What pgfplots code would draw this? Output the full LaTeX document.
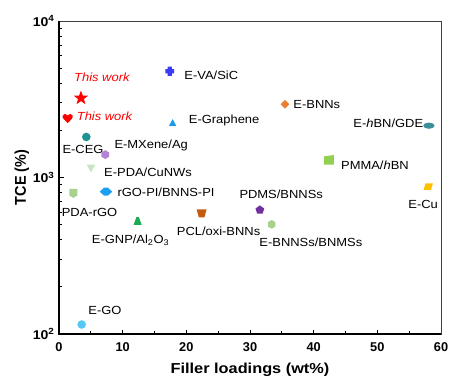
\documentclass[border=0pt]{standalone}
\usepackage{fontspec}
\setmainfont{Liberation Sans}
\usepackage{graphicx}
\usepackage{pgfplots}
\pgfplotsset{compat=1.18}

\definecolor{cred}{HTML}{FF0000}
\definecolor{cva}{HTML}{3B3BF5}
\definecolor{cgraph}{HTML}{1E9BE8}
\definecolor{cceg}{HTML}{1F938F}
\definecolor{cmx}{HTML}{B383D8}
\definecolor{cpda}{HTML}{C5E6C0}
\definecolor{cpdargo}{HTML}{A9D18E}
\definecolor{crgo}{HTML}{1C9FEF}
\definecolor{cgnp}{HTML}{1DAA55}
\definecolor{cpcl}{HTML}{C55A11}
\definecolor{cgo}{HTML}{55C8F5}
\definecolor{cpdms}{HTML}{7030A0}
\definecolor{cbnnss}{HTML}{A9D18E}
\definecolor{ccu}{HTML}{FFC000}
\definecolor{cbnns}{HTML}{ED7D31}
\definecolor{chbn}{HTML}{3C8F9A}
\definecolor{cpmma}{HTML}{92D050}

\pgfdeclareplotmark{fstar}{%
  \pgfpathmoveto{\pgfpointpolar{90}{7.5bp}}%
  \pgfpathlineto{\pgfpointpolar{126}{3.1bp}}%
  \pgfpathlineto{\pgfpointpolar{162}{7.5bp}}%
  \pgfpathlineto{\pgfpointpolar{198}{3.1bp}}%
  \pgfpathlineto{\pgfpointpolar{234}{7.5bp}}%
  \pgfpathlineto{\pgfpointpolar{270}{3.1bp}}%
  \pgfpathlineto{\pgfpointpolar{306}{7.5bp}}%
  \pgfpathlineto{\pgfpointpolar{342}{3.1bp}}%
  \pgfpathlineto{\pgfpointpolar{18}{7.5bp}}%
  \pgfpathlineto{\pgfpointpolar{54}{3.1bp}}%
  \pgfpathclose\pgfusepathqfill}
\pgfdeclareplotmark{heart}{%
  \pgfpathmoveto{\pgfpoint{0bp}{-4.8bp}}%
  \pgfpathcurveto{\pgfpoint{-3bp}{-1.8bp}}{\pgfpoint{-5.6bp}{0.3bp}}{\pgfpoint{-5.1bp}{2.4bp}}%
  \pgfpathcurveto{\pgfpoint{-4.6bp}{4.9bp}}{\pgfpoint{-1bp}{5.3bp}}{\pgfpoint{0bp}{2.8bp}}%
  \pgfpathcurveto{\pgfpoint{1bp}{5.3bp}}{\pgfpoint{4.6bp}{4.9bp}}{\pgfpoint{5.1bp}{2.4bp}}%
  \pgfpathcurveto{\pgfpoint{5.6bp}{0.3bp}}{\pgfpoint{3bp}{-1.8bp}}{\pgfpoint{0bp}{-4.8bp}}%
  \pgfpathclose\pgfusepathqfill}
\pgfdeclareplotmark{fatplus}{%
  \pgfpathmoveto{\pgfpoint{-2.1bp}{4.6bp}}%
  \pgfpathlineto{\pgfpoint{2.1bp}{4.6bp}}%
  \pgfpathlineto{\pgfpoint{2.1bp}{2.1bp}}%
  \pgfpathlineto{\pgfpoint{4.4bp}{2.1bp}}%
  \pgfpathlineto{\pgfpoint{4.4bp}{-2.1bp}}%
  \pgfpathlineto{\pgfpoint{2.1bp}{-2.1bp}}%
  \pgfpathlineto{\pgfpoint{2.1bp}{-4.6bp}}%
  \pgfpathlineto{\pgfpoint{-2.1bp}{-4.6bp}}%
  \pgfpathlineto{\pgfpoint{-2.1bp}{-2.1bp}}%
  \pgfpathlineto{\pgfpoint{-4.4bp}{-2.1bp}}%
  \pgfpathlineto{\pgfpoint{-4.4bp}{2.1bp}}%
  \pgfpathlineto{\pgfpoint{-2.1bp}{2.1bp}}%
  \pgfpathclose\pgfusepathqfill}
\pgfdeclareplotmark{hexa}{%
  \pgfpathmoveto{\pgfpointpolar{90}{4.4bp}}%
  \pgfpathlineto{\pgfpointpolar{150}{4.4bp}}%
  \pgfpathlineto{\pgfpointpolar{210}{4.4bp}}%
  \pgfpathlineto{\pgfpointpolar{270}{4.4bp}}%
  \pgfpathlineto{\pgfpointpolar{330}{4.4bp}}%
  \pgfpathlineto{\pgfpointpolar{30}{4.4bp}}%
  \pgfpathclose\pgfusepathqfill}
\pgfdeclareplotmark{shield}{%
  \pgfpathmoveto{\pgfpoint{-4bp}{4.5bp}}%
  \pgfpathlineto{\pgfpoint{4bp}{4.5bp}}%
  \pgfpathlineto{\pgfpoint{4bp}{-2.3bp}}%
  \pgfpathlineto{\pgfpoint{0bp}{-4.6bp}}%
  \pgfpathlineto{\pgfpoint{-4bp}{-2.3bp}}%
  \pgfpathclose\pgfusepathqfill}
\pgfdeclareplotmark{tent}{%
  \pgfpathmoveto{\pgfpoint{-4bp}{-3.8bp}}%
  \pgfpathlineto{\pgfpoint{4bp}{-3.8bp}}%
  \pgfpathlineto{\pgfpoint{1.3bp}{3.8bp}}%
  \pgfpathlineto{\pgfpoint{-1.3bp}{3.8bp}}%
  \pgfpathclose\pgfusepathqfill}
\pgfdeclareplotmark{cup}{%
  \pgfpathmoveto{\pgfpoint{-5bp}{4.1bp}}%
  \pgfpathlineto{\pgfpoint{5bp}{4.1bp}}%
  \pgfpathlineto{\pgfpoint{2.8bp}{-4.1bp}}%
  \pgfpathlineto{\pgfpoint{-2.8bp}{-4.1bp}}%
  \pgfpathclose\pgfusepathqfill}
\pgfdeclareplotmark{para}{%
  \pgfpathmoveto{\pgfpoint{-4.7bp}{-3.3bp}}%
  \pgfpathlineto{\pgfpoint{2.7bp}{-3.3bp}}%
  \pgfpathlineto{\pgfpoint{4.7bp}{3.3bp}}%
  \pgfpathlineto{\pgfpoint{-2.7bp}{3.3bp}}%
  \pgfpathclose\pgfusepathqfill}
\pgfdeclareplotmark{wdiamond}{%
  \pgfpathmoveto{\pgfpoint{-6.2bp}{0bp}}%
  \pgfpathlineto{\pgfpoint{-2bp}{4bp}}%
  \pgfpathlineto{\pgfpoint{2bp}{4bp}}%
  \pgfpathlineto{\pgfpoint{6.2bp}{0bp}}%
  \pgfpathlineto{\pgfpoint{2bp}{-4bp}}%
  \pgfpathlineto{\pgfpoint{-2bp}{-4bp}}%
  \pgfpathclose\pgfusepathqfill}
\pgfdeclareplotmark{ediamond}{%
  \pgfpathmoveto{\pgfpoint{-4.4bp}{0bp}}%
  \pgfpathlineto{\pgfpoint{0bp}{4.4bp}}%
  \pgfpathlineto{\pgfpoint{4.4bp}{0bp}}%
  \pgfpathlineto{\pgfpoint{0bp}{-4.4bp}}%
  \pgfpathclose\pgfusepathqfill}
\pgfdeclareplotmark{ellip}{%
  \pgfpathellipse{\pgfpointorigin}{\pgfpoint{5.7bp}{0bp}}{\pgfpoint{0bp}{3.1bp}}%
  \pgfusepathqfill}
\pgfdeclareplotmark{pmma}{%
  \pgfpathmoveto{\pgfpoint{-5bp}{-4.6bp}}%
  \pgfpathlineto{\pgfpoint{5bp}{-4.6bp}}%
  \pgfpathlineto{\pgfpoint{5bp}{5bp}}%
  \pgfpathlineto{\pgfpoint{-5bp}{3.6bp}}%
  \pgfpathclose\pgfusepathqfill}
\pgfdeclareplotmark{dtri}{%
  \pgfpathmoveto{\pgfpoint{-4.3bp}{3.6bp}}%
  \pgfpathlineto{\pgfpoint{4.3bp}{3.6bp}}%
  \pgfpathlineto{\pgfpoint{0bp}{-4bp}}%
  \pgfpathclose\pgfusepathqfill}
\pgfdeclareplotmark{utri}{%
  \pgfpathmoveto{\pgfpoint{-3.6bp}{-3.1bp}}%
  \pgfpathlineto{\pgfpoint{3.6bp}{-3.1bp}}%
  \pgfpathlineto{\pgfpoint{0bp}{3.6bp}}%
  \pgfpathclose\pgfusepathqfill}
\pgfdeclareplotmark{pent}{%
  \pgfpathmoveto{\pgfpointpolar{90}{4.6bp}}%
  \pgfpathlineto{\pgfpointpolar{162}{4.6bp}}%
  \pgfpathlineto{\pgfpointpolar{234}{4.6bp}}%
  \pgfpathlineto{\pgfpointpolar{306}{4.6bp}}%
  \pgfpathlineto{\pgfpointpolar{18}{4.6bp}}%
  \pgfpathclose\pgfusepathqfill}
\pgfdeclareplotmark{disc}{%
  \pgfpathcircle{\pgfpointorigin}{4.3bp}\pgfusepathqfill}

\newcommand\lab[1]{\scalebox{1.1}[1]{#1}}
\newcommand\labfont{\fontsize{11.8}{13}\selectfont}

\begin{document}
\begin{tikzpicture}
\begin{axis}[
  scale only axis, width=382bp, height=313bp,
  xmin=0, xmax=60, ymode=log, ymin=100, ymax=10000,
  xtick={0,10,20,30,40,50,60},
  xticklabels={0,10,20,30,40,50,60},
  minor xtick={5,15,25,35,45,55},
  ytick={100,1000,10000},
  yticklabels={\lab{10\textsuperscript{2}},\lab{10\textsuperscript{3}},\lab{10\textsuperscript{4}}},
  minor ytick={200,300,400,500,600,700,800,900,2000,3000,4000,5000,6000,7000,8000,9000},
  tick align=inside, tick pos=left,
  major tick length=4.5bp, minor tick length=2.8bp,
  tick style={black, line width=0.8pt},
  axis line style={draw=black!75, line width=0.7pt},
  xticklabel style={font=\fontsize{12.8}{14}\selectfont\bfseries, yshift=-5bp},
  yticklabel style={font=\fontsize{12.8}{14}\selectfont\bfseries, xshift=-1bp},
  xlabel={\scalebox{1.13}[1]{Filler loadings (wt\%)}},
  ylabel={\scalebox{1}[1.08]{TCE (\%)}},
  xlabel style={font=\fontsize{14.5}{16}\selectfont\bfseries, at={(axis description cs:0.5,-0.115)}, anchor=center},
  ylabel style={font=\fontsize{14.5}{16}\selectfont\bfseries, at={(axis description cs:-0.097,0.5)}, anchor=center},
  clip=false,
  every axis plot/.append style={only marks},
]
% This work
\addplot[color=cred, mark=fstar] coordinates {(3.45,3220)};
\addplot[color=cred, mark=heart] coordinates {(1.36,2390)};
% references
\addplot[color=cva, mark=fatplus] coordinates {(17.4,4770)};
\addplot[color=cgraph, mark=utri] coordinates {(17.85,2240)};
\addplot[color=cceg, mark=disc] coordinates {(4.29,1815)};
\addplot[color=cmx, mark=hexa] coordinates {(7.27,1400)};
\addplot[color=cpda, mark=dtri] coordinates {(5.02,1145)};
\addplot[color=cpdargo, mark=shield] coordinates {(2.25,793)};
\addplot[color=crgo, mark=wdiamond] coordinates {(7.38,812)};
\addplot[color=cgnp, mark=tent] coordinates {(12.35,527)};
\addplot[color=cpcl, mark=cup] coordinates {(22.4,590)};
\addplot[color=cgo, mark=disc] coordinates {(3.56,115)};
\addplot[color=cpdms, mark=pent] coordinates {(31.55,620)};
\addplot[color=cbnnss, mark=hexa] coordinates {(33.4,502)};
\addplot[color=ccu, mark=para] coordinates {(58.0,874)};
\addplot[color=cbnns, mark=ediamond] coordinates {(35.5,2937)};
\addplot[color=chbn, mark=ellip] coordinates {(58.1,2143)};
\addplot[color=cpmma, mark=pmma] coordinates {(42.4,1294)};

\begin{scope}[every node/.style={anchor=west, inner sep=0pt, font=\labfont}]
\node[text=cred, font=\labfont\itshape] at (axis cs:2.36,4365) {\lab{This work}};
\node[text=cred, font=\labfont\itshape] at (axis cs:2.78,2446) {\lab{This work}};
\node at (axis cs:19.68,4498) {\lab{E-VA/SiC}};
\node at (axis cs:20.37,2307) {\lab{E-Graphene}};
\node at (axis cs:0.52,1521) {\lab{E-CEG}};
\node at (axis cs:8.69,1597) {\lab{E-MXene/Ag}};
\node at (axis cs:7.07,1073) {\lab{E-PDA/CuNWs}};
\node at (axis cs:9.16,804) {\lab{rGO-PI/BNNS-PI}};
\node at (axis cs:0.42,596) {\lab{PDA-rGO}};
\node at (axis cs:5.14,398) {\lab{E-GNP/Al\textsubscript{2}O\textsubscript{3}}};
\node at (axis cs:18.49,450) {\lab{PCL/oxi-BNNs}};
\node at (axis cs:4.60,142) {\lab{E-GO}};
\node at (axis cs:28.32,785) {\lab{PDMS/BNNSs}};
\node at (axis cs:31.46,383) {\lab{E-BNNSs/BNMSs}};
\node at (axis cs:54.86,677) {\lab{E-Cu}};
\node at (axis cs:36.80,2937) {\lab{E-BNNs}};
\node at (axis cs:46.22,2220) {\lab{E-\textit{h}BN/GDE}};
\node at (axis cs:44.29,1190) {\lab{PMMA/\textit{h}BN}};
\end{scope}

\draw[black, line width=1.4pt] (rel axis cs:0,1) -- (rel axis cs:0,0) -- (rel axis cs:1,0);
\coordinate (O) at (rel axis cs:0,0);
\coordinate (T) at (rel axis cs:1,1);
\end{axis}
\path ([shift={(-59bp,-52bp)}]O) rectangle ([shift={(30bp,21bp)}]T);
\end{tikzpicture}
\end{document}
